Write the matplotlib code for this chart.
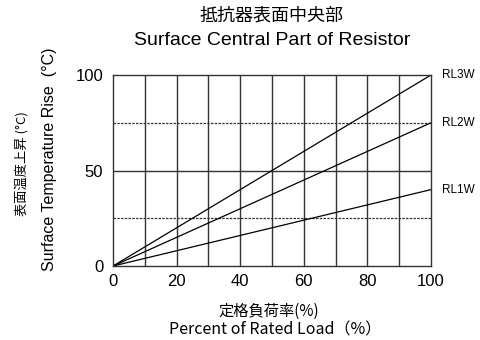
import matplotlib
matplotlib.use("Agg")
import matplotlib.pyplot as plt

load = [0, 100]
rl3w = [0, 100]
rl2w = [0, 75]
rl1w = [0, 40]
series_names = ["RL3W", "RL2W", "RL1W"]
xticks = [0, 20, 40, 60, 80, 100]
yticks = [0, 50, 100]

plt.rcParams['font.family'] = ['Liberation Sans', 'Noto Sans CJK JP', 'DejaVu Sans']
cjk = ['Noto Sans CJK JP', 'Liberation Sans', 'DejaVu Sans']

fig = plt.figure(figsize=(4.8, 3.4), dpi=100)
ax = fig.add_axes([0.2354, 0.2176, 0.6625, 0.5618])

for x in range(10, 100, 10):
    ax.axvline(x, color='#333333', lw=1.0, zorder=1)
ax.axhline(50, color='#333333', lw=1.0, zorder=1)
for y in (25, 75):
    ax.axhline(y, color='#333333', lw=0.9, ls=(0, (2, 1)), zorder=1)

for vals, name in zip([rl3w, rl2w, rl1w], series_names):
    ax.plot(load, vals, color='black', lw=0.9, zorder=2)
    ax.text(1.035, vals[-1] / 100, name, transform=ax.transAxes, fontsize=8.5,
            va='center', ha='left')

ax.set_xlim(0, 100)
ax.set_ylim(0, 100)
ax.set_xticks(xticks)
ax.set_yticks(yticks)
ax.tick_params(axis='y', length=0, labelsize=12, pad=7)
ax.tick_params(axis='x', length=0, labelsize=12, pad=6)
for s in ax.spines.values():
    s.set_color('#333333')
    s.set_linewidth(1.0)

fig.text(0.566, 0.955, "抵抗器表面中央部", ha='center', va='center', fontsize=13, family=cjk)
fig.text(0.567, 0.882, "Surface Central Part of Resistor", ha='center', va='center', fontsize=14)
fig.text(0.5604, 0.083, "定格負荷率(%)", ha='center', va='center', fontsize=11, family=cjk)
fig.text(0.573, 0.030, "Percent of Rated Load（%）", ha='center', va='center', fontsize=11.5, family=cjk)
fig.text(0.046, 0.52, "表面温度上昇 (°C)", rotation=90, ha='center', va='center', fontsize=9.5, family=cjk)
fig.text(0.104, 0.531, "Surface Temperature Rise  (°C)", rotation=90, ha='center', va='center', fontsize=11.5)

fig.savefig("out.png", dpi=100)
